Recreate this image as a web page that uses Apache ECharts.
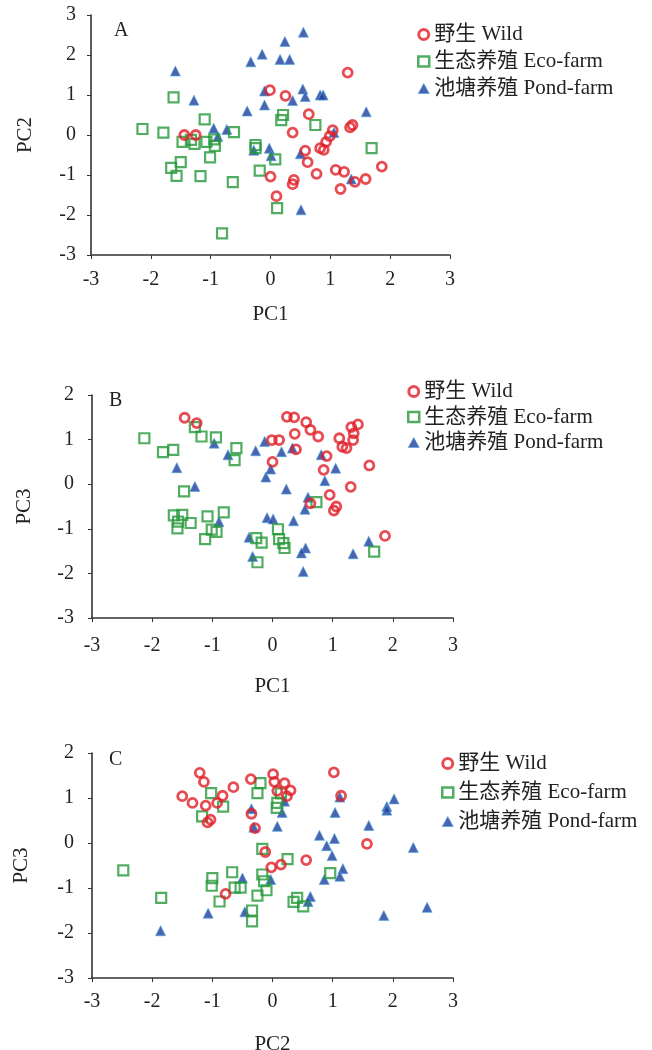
<!DOCTYPE html>
<html><head><meta charset="utf-8">
<script src="https://cdn.jsdelivr.net/npm/echarts@6/dist/echarts.min.js"></script>
<style>html,body{margin:0;padding:0;background:#fff}#c{width:652px;height:1050px}</style>
</head><body><div id="c"></div>
<script>
const seriesNames = ['野生 Wild', '生态养殖 Eco-farm', '池塘养殖 Pond-farm'];
const panelLetters = ['A', 'B', 'C'];
const xAxisNames = ['PC1', 'PC1', 'PC2'];
const yAxisNames = ['PC2', 'PC3', 'PC3'];

// Panel A: PC1 vs PC2
const aWild = [[-1.44,0],[-1.25,0],[-0.01,1.12],[0,-1.04],[0.1,-1.53],[0.25,0.98],[1.29,1.56],[0.64,0.52],[0.37,0.06],[1.04,0.12],[1.33,0.19],[1.37,0.25],[0.99,-0.03],[0.93,-0.17],[0.83,-0.33],[0.89,-0.37],[0.58,-0.39],[0.62,-0.68],[1.86,-0.79],[0.77,-0.97],[1.09,-0.87],[1.23,-0.92],[1.59,-1.1],[1.41,-1.17],[0.39,-1.12],[0.37,-1.23],[1.17,-1.35]];
const aEco = [[-2.14,0.15],[-1.79,0.06],[-1.62,0.94],[-1.1,0.39],[-1.47,-0.17],[-1.33,-0.12],[-1.27,-0.22],[-1.07,-0.17],[-0.94,-0.11],[-0.93,-0.27],[-0.61,0.07],[-1.01,-0.56],[-1.5,-0.68],[-1.66,-0.82],[-1.57,-1.02],[-1.17,-1.03],[-0.63,-1.18],[-0.81,-2.46],[-0.25,-0.25],[-0.25,-0.33],[-0.18,-0.89],[0.08,-0.61],[0.11,-1.83],[0.21,0.5],[0.18,0.37],[0.75,0.25],[1.69,-0.33]];
const aPond = [[-1.59,1.6],[-1.28,0.87],[-0.95,0.17],[-0.88,-0.04],[-0.73,0.14],[-0.39,0.6],[-0.33,1.83],[-0.14,2.02],[-0.28,-0.38],[-0.1,0.75],[-0.1,1.1],[-0.02,-0.33],[0.01,-0.52],[0.16,1.89],[0.32,1.89],[0.24,2.34],[0.55,2.57],[0.37,0.86],[0.54,1.15],[0.58,0.96],[0.83,1.0],[0.88,1.0],[1.6,0.58],[1.06,0.06],[0.5,-0.47],[1.35,-1.1],[0.51,-1.87]];

// Panel B: PC1 vs PC3
const bWild = [[-1.46,1.49],[-1.26,1.37],[-0.01,0.99],[0.11,0.99],[0,0.5],[0.24,1.51],[0.36,1.5],[0.56,1.39],[0.63,1.22],[0.37,1.13],[0.76,1.07],[0.39,0.78],[1.11,1.03],[1.31,1.28],[1.42,1.34],[1.35,1.14],[1.34,0.99],[1.16,0.84],[1.23,0.81],[0.9,0.63],[0.85,0.32],[1.61,0.42],[1.3,-0.06],[0.95,-0.24],[0.63,-0.43],[1.06,-0.5],[1.02,-0.59],[1.87,-1.16]];
const bEco = [[-2.13,1.03],[-1.82,0.72],[-1.65,0.77],[-1.29,1.28],[-1.18,1.07],[-0.94,1.05],[-0.6,0.81],[-0.63,0.54],[-1.47,-0.16],[-1.64,-0.7],[-1.5,-0.69],[-1.57,-0.84],[-1.58,-0.99],[-1.36,-0.87],[-1.08,-0.72],[-1.01,-1.02],[-0.93,-1.07],[-1.12,-1.23],[-0.81,-0.63],[-0.27,-1.21],[-0.18,-1.31],[-0.25,-1.75],[0.09,-1.01],[0.11,-1.23],[0.18,-1.32],[0.2,-1.43],[0.73,-0.4],[1.69,-1.51]];
const bPond = [[-1.59,0.37],[-1.29,-0.05],[-0.97,0.92],[-0.74,0.66],[-0.28,0.75],[-0.13,0.96],[-0.11,0.16],[-0.03,0.34],[-0.89,-0.84],[-0.39,-1.19],[-0.33,-1.62],[-0.09,-0.75],[0.01,-0.78],[0.15,0.73],[0.33,0.81],[0.23,-0.11],[0.81,0.66],[1.05,0.36],[0.87,0.08],[0.59,-0.29],[0.54,-0.56],[0.35,-0.82],[0.55,-1.43],[0.48,-1.54],[0.51,-1.96],[1.34,-1.56],[1.6,-1.28]];

// Panel C: PC2 vs PC3
const cWild = [[-1.21,1.56],[-1.14,1.36],[-1.5,1.04],[-1.33,0.89],[-1.11,0.83],[-1.03,0.52],[-1.08,0.46],[-0.92,0.89],[-0.83,1.05],[-0.65,1.24],[-0.36,1.42],[-0.35,0.65],[-0.29,0.33],[0.01,1.53],[0.03,1.36],[0.08,1.16],[-0.12,-0.2],[-0.02,-0.54],[-0.78,-1.13],[0.2,1.33],[0.3,1.17],[0.24,1.04],[1.02,1.57],[1.14,1.05],[0.14,-0.48],[0.56,-0.38],[1.57,-0.02]];
const cEco = [[-2.48,-0.61],[-1.85,-1.22],[-1.02,1.11],[-0.82,0.81],[-1.17,0.59],[-0.2,1.33],[-0.25,1.11],[-0.17,-0.13],[-1.0,-0.78],[-1.01,-0.95],[-0.67,-0.65],[-0.63,-0.99],[-0.53,-0.99],[-0.88,-1.3],[-0.17,-0.7],[-0.14,-0.85],[-0.1,-1.05],[-0.25,-1.17],[-0.34,-1.5],[-0.34,-1.74],[0.14,1.1],[0.08,0.89],[0.07,0.78],[0.25,-0.36],[0.96,-0.67],[0.41,-1.22],[0.35,-1.31],[0.51,-1.41]];
const cPond = [[-1.86,-1.95],[-1.07,-1.56],[-0.46,-1.53],[-0.5,-0.78],[-0.03,-0.81],[-0.35,0.76],[-0.31,0.35],[0.08,0.37],[0.2,0.93],[0.16,0.68],[1.12,1.02],[1.04,0.68],[0.78,0.17],[0.9,-0.06],[1.03,0.1],[0.99,-0.28],[1.17,-0.57],[1.12,-0.74],[0.86,-0.81],[0.63,-1.19],[0.59,-1.3],[1.6,0.39],[1.9,0.81],[1.9,0.73],[2.02,0.98],[2.34,-0.1],[1.85,-1.61],[2.57,-1.43]];

const yMin = [-3, -3, -3];
const yMax = [3, 2, 2];
const panelData = [[aWild, aEco, aPond], [bWild, bEco, bPond], [cWild, cEco, cPond]];

const SERIF = '"Liberation Serif", "DejaVu Serif", "Noto Sans CJK SC", serif';
const gridPos = [
  {left: 91, top: 15, width: 359, height: 240},
  {left: 92, top: 395, width: 361, height: 223},
  {left: 92, top: 753, width: 361, height: 225}
];
const labelMarginX = [15, 18, 14];
const labelMarginY = [15, 18, 18];
const nameGapX = [49, 58, 56];
const nameGapY = [55, 57, 60];
const legendPos = [
  {left: 417, top: 24, itemGap: 6},
  {left: 407, top: 381, itemGap: 4.5},
  {left: 441, top: 753, itemGap: 8}
];
const letterPos = [{left: 109, top: 16}, {left: 104, top: 386}, {left: 104, top: 745}];
const styles = [
  {symbol: 'circle', symbolSize: 9, itemStyle: {color: 'rgba(255,255,255,0)', borderColor: '#e11f28', borderWidth: 2.8}},
  {symbol: 'rect', symbolSize: 10, itemStyle: {color: 'rgba(255,255,255,0)', borderColor: '#25983a', borderWidth: 2.2}},
  {symbol: 'triangle', symbolSize: 10, itemStyle: {color: '#1f3d9c', borderColor: '#4ba6e0', borderWidth: 0.8}}
];
const legendIcons = [
  {icon: 'circle', itemStyle: {color: 'rgba(255,255,255,0)', borderColor: '#e11f28', borderWidth: 3}},
  {icon: 'rect', itemStyle: {color: 'rgba(255,255,255,0)', borderColor: '#25983a', borderWidth: 2.5}},
  {icon: 'triangle', itemStyle: {color: '#1f3d9c', borderColor: '#4ba6e0', borderWidth: 0.8}}
];
const axisLine = {show: true, onZero: false, lineStyle: {color: '#333', width: 1.6}};
const grid = [], xAxis = [], yAxis = [], series = [], legend = [], title = [];
for (let p = 0; p < 3; p++) {
  grid.push(Object.assign({containLabel: false, outerBoundsMode: 'none'}, gridPos[p]));
  xAxis.push({type: 'value', gridIndex: p, min: -3, max: 3, interval: 1, axisLine: axisLine, splitLine: {show: false},
    axisTick: {show: true, inside: false, length: 4, lineStyle: {color: '#333'}},
    axisLabel: {fontFamily: SERIF, fontSize: 20, color: '#222', margin: labelMarginX[p]},
    name: xAxisNames[p], nameLocation: 'middle', nameGap: nameGapX[p], nameTextStyle: {fontFamily: SERIF, fontSize: 21, color: '#222'}});
  yAxis.push({type: 'value', gridIndex: p, min: yMin[p], max: yMax[p], interval: 1, axisLine: axisLine, splitLine: {show: false},
    axisTick: {show: true, inside: false, length: 4, lineStyle: {color: '#333'}},
    axisLabel: {fontFamily: SERIF, fontSize: 20, color: '#222', margin: labelMarginY[p]},
    name: yAxisNames[p], nameLocation: 'middle', nameGap: nameGapY[p], nameRotate: 90, nameTextStyle: {fontFamily: SERIF, fontSize: 21, color: '#222'}});
  for (let s = 0; s < 3; s++) {
    series.push(Object.assign({type: 'scatter', name: seriesNames[s], xAxisIndex: p, yAxisIndex: p, data: panelData[p][s], z: 3 - s},
      JSON.parse(JSON.stringify(styles[s]))));
  }
  legend.push({orient: 'vertical', left: legendPos[p].left, top: legendPos[p].top, padding: 0, itemGap: legendPos[p].itemGap, itemWidth: 11, itemHeight: 10,
    data: seriesNames.map((n, i) => Object.assign({name: n}, JSON.parse(JSON.stringify(legendIcons[i])))), selectedMode: false,
    textStyle: {fontFamily: SERIF, fontSize: 21, color: '#222'}});
  title.push({text: panelLetters[p], left: letterPos[p].left, top: letterPos[p].top, textStyle: {fontFamily: SERIF, fontSize: 20, fontWeight: 'normal', color: '#222'}});
}
const chart = echarts.init(document.getElementById('c'), null, {renderer: 'canvas'});
chart.setOption({animation: false, backgroundColor: '#fff', title, grid, xAxis, yAxis, series, legend});
</script></body></html>
